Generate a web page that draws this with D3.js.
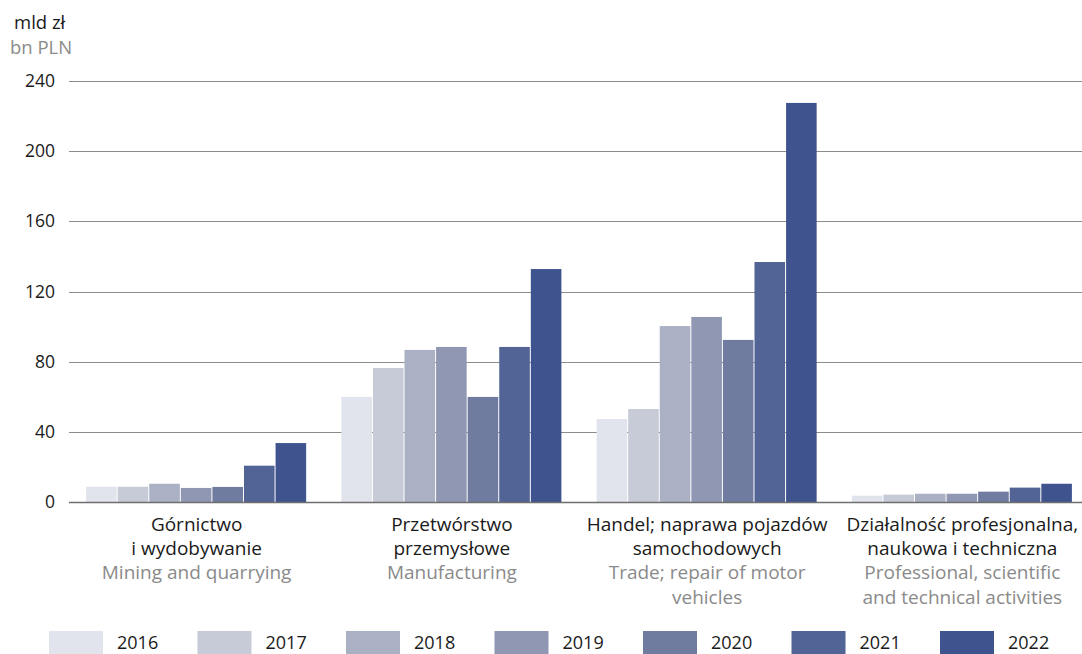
<!DOCTYPE html>
<html>
<head>
<meta charset="utf-8">
<script src="https://cdn.jsdelivr.net/npm/d3@7"></script>
<style>
  body { margin: 0; background: #fff; }
  text { font-family: "Open Sans", "Noto Sans", sans-serif; }
</style>
</head>
<body>
<script>
// dane
var years = ["2016", "2017", "2018", "2019", "2020", "2021", "2022"];
var sectorsPl = [["Górnictwo", "i wydobywanie"], ["Przetwórstwo", "przemysłowe"], ["Handel; naprawa pojazdów", "samochodowych"], ["Działalność profesjonalna,", "naukowa i techniczna"]];
var sectorsEn = [["Mining and quarrying"], ["Manufacturing"], ["Trade; repair of motor", "vehicles"], ["Professional, scientific", "and technical activities"]];
var mining = [8.7, 8.7, 10.4, 8.0, 8.6, 20.7, 33.6];
var manufacturing = [59.9, 76.4, 86.7, 88.4, 59.9, 88.4, 132.8];
var trade = [47.3, 53.0, 100.3, 105.5, 92.4, 136.8, 227.5];
var professional = [3.6, 4.2, 4.7, 4.7, 5.9, 8.2, 10.4];
var yTicks = [0, 40, 80, 120, 160, 200, 240];
var colors = ["#e1e4ec", "#c7cbd7", "#abb1c5", "#8f97b3", "#6f7b9f", "#526395", "#3f548f"];

var series = [mining, manufacturing, trade, professional];

var width = 1082, height = 654;
var svg = d3.select("body").append("svg").attr("width", width).attr("height", height);

var y = d3.scaleLinear().domain([0, 240]).range([502, 81]);
var x0 = d3.scaleBand().domain(d3.range(4)).range([69, 1090]).paddingInner(0.134).paddingOuter(0.067);
var x1 = d3.scaleBand().domain(years).range([0, x0.bandwidth()]);

// siatka
svg.append("g").selectAll("line").data(yTicks.filter(d => d > 0)).join("line")
    .attr("x1", 69).attr("x2", width)
    .attr("y1", d => Math.round(y(d)) + 0.5).attr("y2", d => Math.round(y(d)) + 0.5)
    .attr("stroke", "#8c8c8c").attr("stroke-width", 1.2);

svg.append("g").selectAll("text").data(yTicks).join("text")
    .attr("x", 55).attr("y", d => y(d)).attr("dy", "0.35em")
    .attr("text-anchor", "end").attr("font-size", 17.5).attr("fill", "#1a1a1a")
    .text(d => d);

// słupki
var groups = svg.append("g").selectAll("g").data(series).join("g")
    .attr("transform", (d, i) => "translate(" + x0(i) + ",0)");

groups.selectAll("rect").data(d => d).join("rect")
    .attr("x", (d, i) => x1(years[i]))
    .attr("width", x1.bandwidth() - 1)
    .attr("y", d => y(d))
    .attr("height", d => y(0) - y(d))
    .attr("fill", (d, i) => colors[i]);

// oś zero
svg.append("line").attr("x1", 69).attr("x2", width)
    .attr("y1", y(0) + 0.5).attr("y2", y(0) + 0.5)
    .attr("stroke", "#6e6e6e").attr("stroke-width", 1.6);

// etykiety osi X
sectorsPl.forEach(function(lines, i) {
    var cx = x0(i) + x0.bandwidth() / 2;
    var all = lines.map(t => ({t: t, c: "#1a1a1a"})).concat(sectorsEn[i].map(t => ({t: t, c: "#8a8a8a"})));
    svg.append("g").selectAll("text").data(all).join("text")
        .attr("x", cx).attr("y", (d, j) => 531 + j * 24.2)
        .attr("text-anchor", "middle").attr("font-size", 19)
        .attr("fill", d => d.c).text(d => d.t);
});

// jednostka
svg.append("text").attr("x", 14).attr("y", 29).attr("font-size", 18.5).attr("fill", "#1a1a1a").text("mld zł");
svg.append("text").attr("x", 10).attr("y", 54).attr("font-size", 18.5).attr("fill", "#8a8a8a").text("bn PLN");

// legenda
var legend = svg.append("g").selectAll("g").data(years).join("g")
    .attr("transform", (d, i) => "translate(" + (49 + i * 148.5) + ",631)");
legend.append("rect").attr("width", 54).attr("height", 26).attr("fill", (d, i) => colors[i]);
legend.append("text").attr("x", 68).attr("y", 18).attr("font-size", 18).attr("fill", "#1a1a1a").text(d => d);
</script>
</body>
</html>
